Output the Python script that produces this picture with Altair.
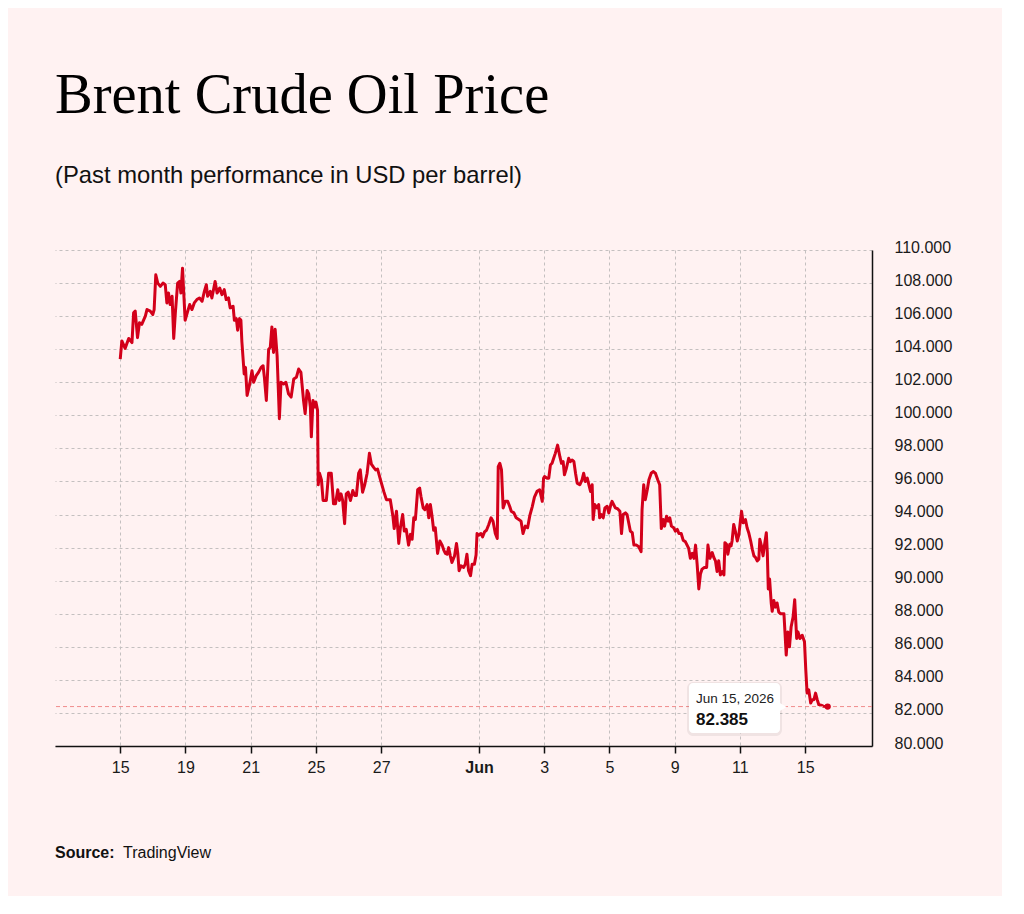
import pandas as pd
import altair as alt

RED = "#d3001a"
BG = "#fff2f2"
GRID = "#c4c0c0"
INK = "#111111"
SANS = "Liberation Sans"
SERIF = "Liberation Serif"

# x = trading days since Fri 15 May 2026 (weekends skipped), y = USD per barrel
days_a = [0.00, 0.05, 0.15, 0.26, 0.36, 0.41, 0.46, 0.53, 0.59, 0.66,
          0.77, 0.82, 0.92, 1.00, 1.04, 1.09, 1.15, 1.23, 1.31, 1.38,
          1.43, 1.48, 1.53, 1.59, 1.64, 1.69, 1.76, 1.82, 1.86, 1.91,
          1.94, 1.99, 2.07, 2.13, 2.20, 2.27, 2.35, 2.43, 2.51, 2.58,
          2.64, 2.68, 2.76, 2.81, 2.86, 2.91, 2.97, 3.05, 3.12, 3.19,
          3.25, 3.32, 3.37, 3.46, 3.50, 3.56, 3.60, 3.66, 3.70, 3.73,
          3.80, 3.84, 3.89, 3.97, 4.04, 4.09, 4.17, 4.24, 4.32, 4.38,
          4.42, 4.48]
price_a = [103.4, 104.5, 104.05, 104.65, 104.4, 106.2, 106.3, 104.7, 105.6, 105.5,
           106.0, 106.4, 106.3, 106.1, 106.4, 108.5, 108.0, 107.8, 108.0, 107.9,
           106.8, 107.4, 106.7, 107.2, 104.65, 106.2, 108.0, 108.1, 107.4, 108.9,
           107.7, 105.75, 106.3, 106.7, 106.4, 106.8, 107.0, 107.1, 106.9, 107.5,
           107.9, 107.2, 107.5, 107.1, 107.6, 108.1, 107.4, 107.7, 107.3, 107.6,
           107.0, 107.1, 106.5, 106.6, 105.75, 105.85, 105.15, 105.85, 105.75, 104.45,
           102.5, 102.9, 101.2, 101.9, 102.7, 102.0, 102.4, 102.6, 102.9, 103.0,
           102.3, 100.9]

days_b = [4.55, 4.60, 4.65, 4.70, 4.75, 4.81, 4.88, 4.93, 5.01, 5.08,
          5.16, 5.24, 5.32, 5.40, 5.47, 5.54, 5.62, 5.67, 5.73, 5.78,
          5.83, 5.86, 5.91, 5.96, 6.00, 6.05, 6.07, 6.11, 6.17, 6.22,
          6.32, 6.39, 6.47, 6.54, 6.60, 6.67, 6.72, 6.77, 6.82, 6.88,
          6.93, 6.99, 7.06, 7.13, 7.19, 7.24, 7.31, 7.36, 7.43, 7.49,
          7.57, 7.64, 7.70, 7.77, 7.83, 7.89]
price_b = [104.0, 104.1, 105.35, 103.8, 105.2, 103.6, 99.8, 102.0, 101.9, 102.0,
           101.3, 101.1, 102.2, 102.3, 102.8, 102.6, 100.9, 100.1, 101.5, 101.3,
           100.5, 98.7, 100.9, 100.5, 100.8, 100.3, 95.8, 96.5, 96.1, 94.85,
           94.85, 96.5, 96.5, 94.65, 94.65, 95.5, 94.85, 95.25, 94.85, 93.45,
           95.25, 95.35, 94.85, 95.45, 95.15, 95.15, 96.5, 96.7, 95.35, 95.75,
           96.5, 97.7, 97.05, 96.85, 96.7, 96.75]

days_c = [7.98, 8.08, 8.16, 8.28, 8.36, 8.40, 8.47, 8.54, 8.59, 8.66,
          8.71, 8.77, 8.84, 8.90, 8.95, 9.00, 9.05, 9.12, 9.18, 9.22,
          9.29, 9.34, 9.41, 9.46, 9.51, 9.56, 9.61, 9.66, 9.73, 9.80,
          9.87, 9.92, 9.97, 10.02, 10.07, 10.12, 10.17, 10.25, 10.31, 10.35,
          10.39, 10.45, 10.53, 10.58, 10.63, 10.68, 10.74, 10.79, 10.86, 10.91,
          10.94, 10.99, 11.06, 11.11, 11.17, 11.23, 11.30, 11.37, 11.43, 11.50,
          11.56, 11.59, 11.64, 11.69, 11.74, 11.81, 11.88, 11.94, 11.99, 12.07,
          12.14, 12.22, 12.29, 12.35, 12.42, 12.49, 12.56, 12.63, 12.70, 12.78,
          12.86, 12.94, 12.98]
price_c = [96.1, 95.4, 94.9, 94.9, 93.9, 93.15, 94.2, 92.25, 93.2, 94.0,
           93.0, 93.1, 92.15, 92.8, 92.5, 93.8, 93.7, 95.5, 95.6, 95.1,
           94.4, 94.3, 94.6, 93.8, 94.6, 93.9, 93.05, 93.2, 91.65, 92.4,
           92.15, 91.85, 91.65, 91.6, 92.0, 91.5, 91.1, 91.5, 92.25, 91.65,
           90.6, 90.9, 90.8, 91.0, 91.6, 90.6, 90.3, 91.0, 91.0, 91.55,
           92.85, 92.75, 92.85, 92.65, 92.95, 93.05, 93.4, 93.8, 93.6, 92.85,
           92.55, 96.9, 97.1, 96.7, 94.4, 94.8, 94.8, 94.5, 94.2, 94.1,
           93.8, 93.7, 93.6, 92.85, 93.3, 93.2, 93.95, 94.45, 95.05, 95.4,
           95.5, 94.8, 96.2]

days_d = [13.01, 13.09, 13.14, 13.19, 13.24, 13.29, 13.34, 13.41, 13.48, 13.53,
          13.58, 13.62, 13.68, 13.75, 13.80, 13.86, 13.91, 13.96, 14.01, 14.09,
          14.16, 14.21, 14.26, 14.32, 14.37, 14.42, 14.47, 14.50, 14.55, 14.62,
          14.67, 14.70, 14.75, 14.81, 14.86, 14.93, 14.98, 15.03, 15.08, 15.13,
          15.18, 15.25, 15.32, 15.37, 15.42, 15.49, 15.54, 15.59, 15.64, 15.70,
          15.75, 15.83, 15.90, 15.97, 16.00, 16.05, 16.10, 16.16, 16.21, 16.28,
          16.34, 16.41, 16.48, 16.54, 16.59, 16.65, 16.69, 16.75, 16.80, 16.85,
          16.90, 16.97, 17.02, 17.08, 17.13, 17.20, 17.26, 17.33, 17.38, 17.43,
          17.48, 17.54, 17.59, 17.64, 17.69, 17.74, 17.79, 17.84, 17.91, 17.98,
          18.02, 18.08]
price_d = [96.3, 96.2, 96.2, 97.0, 97.1, 97.4, 97.7, 98.2, 97.5, 97.1,
           97.2, 96.4, 96.8, 97.4, 97.2, 97.3, 97.2, 96.5, 95.9, 95.8,
           96.1, 96.5, 96.0, 96.2, 95.8, 95.4, 95.8, 93.7, 94.6, 94.4,
           94.6, 93.8, 94.0, 93.8, 94.4, 94.5, 94.1, 94.5, 94.8, 94.6,
           94.4, 94.35, 94.2, 92.85, 94.0, 94.1, 94.0, 93.5, 93.0, 92.9,
           92.15, 92.15, 92.05, 91.75, 94.3, 95.8, 94.9, 95.5, 96.1, 96.5,
           96.6, 96.5, 96.1, 95.8, 93.15, 93.7, 93.3, 93.9, 93.6, 93.8,
           93.3, 93.2, 93.0, 93.1, 92.85, 92.85, 92.45, 92.35, 92.15, 91.95,
           91.35, 91.65, 91.35, 92.15, 90.95, 89.5, 90.4, 90.7, 90.8, 90.8,
           92.15, 91.35]

days_e = [18.15, 18.20, 18.25, 18.30, 18.35, 18.40, 18.46, 18.51, 18.54, 18.59,
          18.63, 18.69, 18.73, 18.76, 18.81, 18.87, 18.92, 18.97, 19.02, 19.05,
          19.10, 19.17, 19.22, 19.27, 19.33, 19.38, 19.43, 19.48, 19.53, 19.58,
          19.61, 19.66, 19.71, 19.75, 19.81, 19.84, 19.87, 19.91, 19.96, 19.99,
          20.04, 20.09, 20.14, 20.19, 20.25, 20.35, 20.38, 20.42, 20.47, 20.52,
          20.57, 20.63, 20.68, 20.74, 20.78, 20.84, 20.91, 20.98, 21.02, 21.06,
          21.11, 21.17, 21.22, 21.27, 21.32, 21.37, 21.42, 21.52, 21.57, 21.69]
price_e = [91.7, 91.4, 91.2, 90.55, 91.2, 90.35, 90.55, 90.35, 92.3, 92.2,
           91.6, 92.2, 92.1, 92.4, 93.4, 92.9, 92.4, 92.8, 93.7, 94.2,
           93.5, 93.7, 93.2, 92.9, 92.4, 91.9, 91.5, 91.4, 91.2, 91.3,
           92.5, 92.1, 91.5, 92.1, 92.9, 91.7, 89.5, 90.1, 88.65, 88.15,
           88.8, 88.4, 88.65, 88.1, 88.0, 88.0, 86.95, 85.5, 86.9, 86.0,
           87.2, 87.8, 88.85, 86.5, 86.9, 86.5, 86.7, 86.3, 84.6, 83.2,
           83.4, 82.6, 82.8, 82.8, 83.2, 82.8, 82.5, 82.45, 82.4, 82.385]

tick_days = [0, 2, 4, 6, 8, 11, 13, 15, 17, 19, 21]
tick_labels = ["15", "19", "21", "25", "27", "Jun", "3", "5", "9", "11", "15"]
price_ticks = list(range(80, 111, 2))
last_label = "Jun 15, 2026"

days = days_a + days_b + days_c + days_d + days_e
price = price_a + price_b + price_c + price_d + price_e
df = pd.DataFrame({"day": days, "price": price})
last = pd.DataFrame({"day": [days[-1]], "price": [price[-1]], "label": [last_label]})
src = pd.DataFrame({"a": ["Source:"], "b": ["TradingView"]})

xscale = alt.Scale(domain=[-2, 23.05], nice=False, zero=False)
yscale = alt.Scale(domain=[80, 110], nice=False, zero=False)

label_expr = f"{tick_labels}[indexof({tick_days}, datum.value)]"

x_axis = alt.Axis(
    values=tick_days, labelExpr=label_expr,
    labelFontWeight={"condition": {"test": "datum.value == 11", "value": "bold"}, "value": "normal"},
    grid=True, gridColor=GRID, gridDash=[3, 3], gridWidth=1,
    domainColor=INK, domainWidth=1.5, tickColor=INK, tickWidth=1.5, tickSize=7,
    labelFont=SANS, labelFontSize=16, labelColor="#1a1a1a", labelPadding=6,
    labelOverlap=False, labelFlush=False,
)
y_axis = alt.Axis(
    orient="right", values=price_ticks, format=".3f",
    grid=True, gridColor=GRID, gridDash=[3, 3], gridWidth=1,
    domainColor=INK, domainWidth=1.5, ticks=False, tickSize=0,
    labelFont=SANS, labelFontSize=16, labelColor="#1a1a1a", labelPadding=22,
    labelOffset=-3, labelOverlap=False, labelFlush=False,
)

X = alt.X("day:Q", scale=xscale, axis=x_axis, title=None)
Y = alt.Y("price:Q", scale=yscale, axis=y_axis, title=None)

line = alt.Chart(df).mark_line(color=RED, strokeWidth=3, strokeJoin="round").encode(x=X, y=Y)

# dashed marker at the latest price + end dot
last_rule = alt.Chart(last).mark_rule(color="#f08c8c", strokeDash=[4, 3], strokeWidth=1).encode(y=Y)
last_dot = alt.Chart(last).mark_circle(color=RED, size=40, opacity=1).encode(x=X, y=Y)

# tooltip style label
tip_shadow = alt.Chart(last).mark_rect(color="#000000", opacity=0.06, cornerRadius=6).encode(
    x=alt.value(632), x2=alt.value(727), y=alt.value(432), y2=alt.value(486)
)
tip_box = alt.Chart(last).mark_rect(color="white", cornerRadius=4).encode(
    x=alt.value(634), x2=alt.value(725), y=alt.value(433), y2=alt.value(483)
)
tip_arrow = alt.Chart(last).mark_point(shape="triangle-right", filled=True, color="white",
                                       opacity=1, size=70).encode(
    x=alt.value(728), y=alt.value(457)
)
tip_date = alt.Chart(last).mark_text(align="left", baseline="alphabetic", font=SANS,
                                     fontSize=13.5, color="#222222").encode(
    x=alt.value(641), y=alt.value(453), text="label:N"
)
tip_price = alt.Chart(last).mark_text(align="left", baseline="alphabetic", font=SANS,
                                      fontSize=17, fontWeight="bold", color=INK).encode(
    x=alt.value(641), y=alt.value(475), text=alt.Text("price:Q", format=".3f")
)

src_a = alt.Chart(src).mark_text(align="left", baseline="alphabetic", font=SANS,
                                 fontSize=16, fontWeight="bold", color=INK).encode(
    x=alt.value(0), y=alt.value(608), text="a:N"
)
src_b = alt.Chart(src).mark_text(align="left", baseline="alphabetic", font=SANS,
                                 fontSize=16, color=INK).encode(
    x=alt.value(68), y=alt.value(608), text="b:N"
)

chart = alt.layer(
    line, last_rule, last_dot, tip_shadow, tip_box, tip_arrow, tip_date, tip_price, src_a, src_b
).properties(
    width=817,
    height=496,
    title=alt.TitleParams(
        text="Brent Crude Oil Price",
        subtitle="(Past month performance in USD per barrel)",
        anchor="start", frame="group",
        font=SERIF, fontSize=56.5, fontWeight="normal", color="#000000",
        subtitleFont=SANS, subtitleFontSize=23.8, subtitleColor=INK,
        subtitlePadding=40, offset=51,
    ),
    autosize=alt.AutoSizeParams(type="none"),
    padding={"left": 47, "top": 242, "right": 130, "bottom": 150},
).configure(background=BG).configure_view(stroke="transparent")

chart.save("out.html", embed_options={"renderer": "svg", "actions": False})
